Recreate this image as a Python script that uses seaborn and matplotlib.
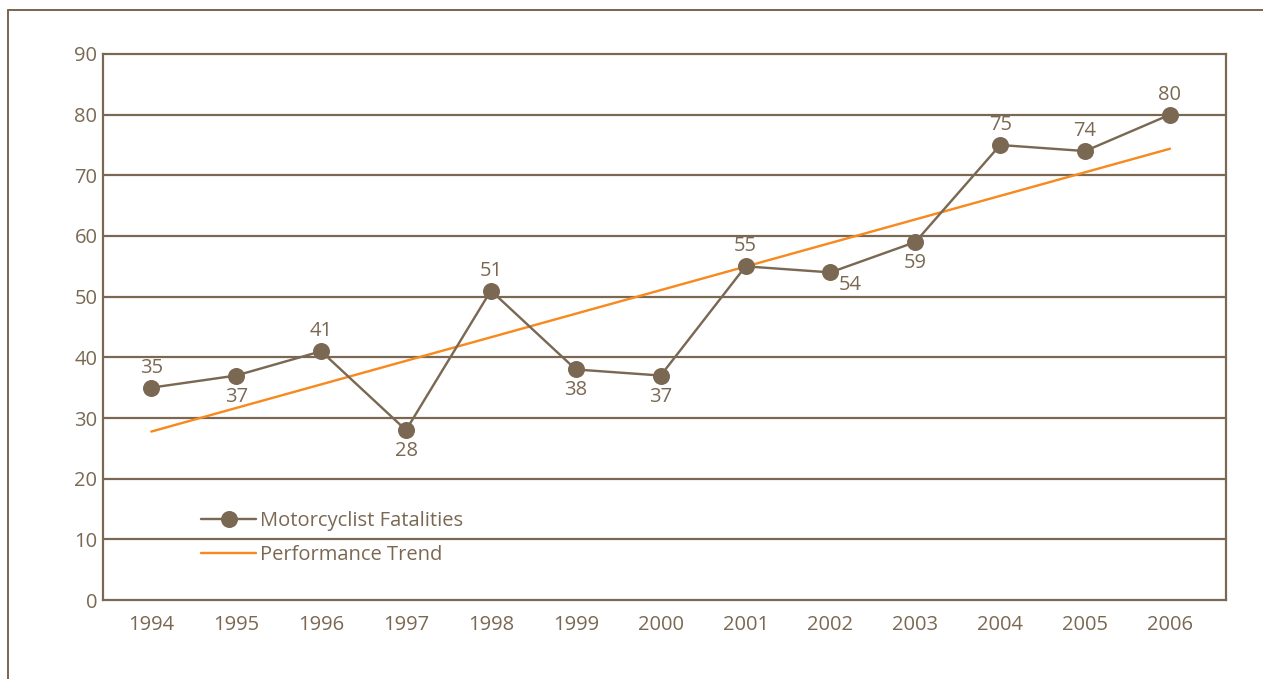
import matplotlib
matplotlib.use("Agg")
import matplotlib.pyplot as plt
from matplotlib.lines import Line2D
import seaborn as sns
import pandas as pd

# Motorcyclist fatalities by year
years = [1994, 1995, 1996, 1997, 1998, 1999, 2000, 2001, 2002, 2003, 2004, 2005, 2006]
fatalities = [35, 37, 41, 28, 51, 38, 37, 55, 54, 59, 75, 74, 80]
y_ticks = [0, 10, 20, 30, 40, 50, 60, 70, 80, 90]

# where each value label sits relative to its point (pixels: dx, dy)
label_offsets = [(0, 20), (0, -21), (0, 20), (0, -21), (0, 20), (0, -21), (0, -21),
                 (0, 20), (20, -13), (0, -21), (0, 20), (0, 20), (0, 20)]

BROWN = "#7a6853"
ORANGE = "#f7891f"
FS = 14.5

sns.set_theme(style="white")
plt.rcParams["font.family"] = ["Open Sans", "DejaVu Sans"]

df = pd.DataFrame({"year": years, "fatalities": fatalities})

DPI = 100
fig = plt.figure(figsize=(12.63, 6.79), dpi=DPI)
ax = fig.add_axes([103 / 1263, 79 / 679, 1123 / 1263, 546 / 679])

px = 72 / DPI  # pixels -> points

# horizontal grid lines
for t in y_ticks[1:-1]:
    ax.axhline(t, color=BROWN, lw=2.2 * px, zorder=1)

# fitted performance trend
sns.regplot(data=df, x="year", y="fatalities", ax=ax, scatter=False, ci=None,
            truncate=True, line_kws=dict(color=ORANGE, lw=2.4 * px, zorder=2))

# yearly fatalities
sns.lineplot(data=df, x="year", y="fatalities", ax=ax, color=BROWN, lw=2.4 * px,
             marker="o", markersize=17 * px, markeredgewidth=0, zorder=3)

for x, v, (dx, dy) in zip(years, fatalities, label_offsets):
    ax.annotate(f"{v}", (x, v), xytext=(dx * px, dy * px), textcoords="offset points",
                ha="center", va="center", fontsize=FS, color=BROWN, zorder=4)

ax.set_xlim(years[0] - 0.57, years[-1] + 0.66)
ax.set_ylim(0, 90)
ax.set_xticks(years)
ax.set_xticklabels([str(y) for y in years])
ax.set_yticks(y_ticks)
ax.set_xlabel("")
ax.set_ylabel("")
ax.tick_params(axis="both", length=0, labelsize=FS, labelcolor=BROWN)
ax.tick_params(axis="x", pad=11)
ax.tick_params(axis="y", pad=4)
for s in ax.spines.values():
    s.set_visible(True)
    s.set_color(BROWN)
    s.set_linewidth(2.2 * px)

handles = [
    Line2D([], [], color=BROWN, lw=2.4 * px, marker="o", markersize=17 * px,
           markeredgewidth=0),
    Line2D([], [], color=ORANGE, lw=2.4 * px),
]
leg = ax.legend(handles, ["Motorcyclist Fatalities", "Performance Trend"],
                loc="lower left", bbox_to_anchor=(0.08, 0.049), frameon=False,
                fontsize=FS, handlelength=2.75, handletextpad=0.2,
                labelspacing=0.7, borderaxespad=0)
for t in leg.get_texts():
    t.set_color(BROWN)

# outer page frame (top and left rules)
W, H = 1263, 679
fig.add_artist(Line2D([8 / W, 1.0], [1 - 10 / H, 1 - 10 / H], color=BROWN,
                      lw=2 * px, transform=fig.transFigure))
fig.add_artist(Line2D([8 / W, 8 / W], [0, 1 - 10 / H], color=BROWN,
                      lw=2 * px, transform=fig.transFigure))

fig.savefig("out.png", dpi=DPI, facecolor="white")
